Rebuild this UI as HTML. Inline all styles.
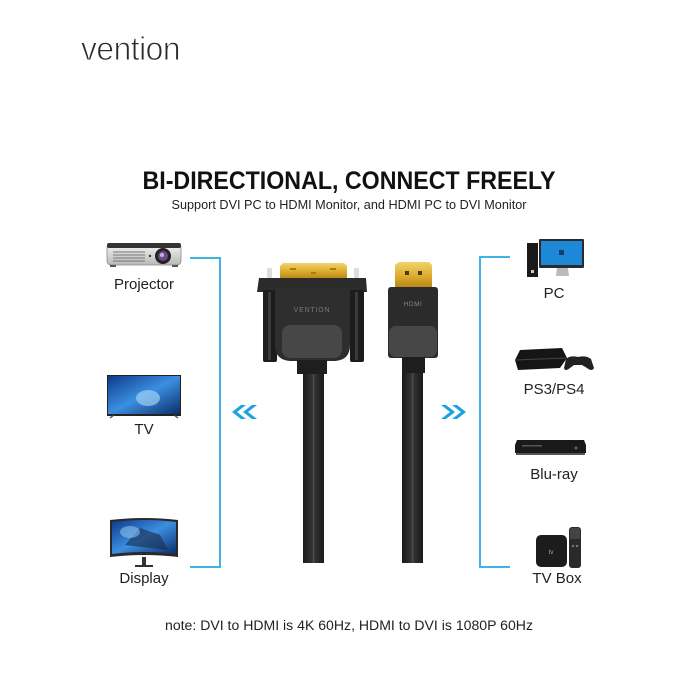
<!DOCTYPE html>
<html>
<head>
<meta charset="utf-8">
<style>
html,body{margin:0;padding:0;background:#fff;}
body{width:700px;height:700px;overflow:hidden;}
svg{display:block;}
text{font-family:"Liberation Sans",Arial,sans-serif;}
</style>
</head>
<body>
<svg width="700" height="700" viewBox="0 0 700 700" xmlns="http://www.w3.org/2000/svg">
<defs>
  <linearGradient id="gold" x1="0" y1="0" x2="0" y2="1">
    <stop offset="0" stop-color="#f3d36a"/>
    <stop offset="0.6" stop-color="#d9a92a"/>
    <stop offset="1" stop-color="#b88a18"/>
  </linearGradient>
  <linearGradient id="cable" x1="0" y1="0" x2="1" y2="0">
    <stop offset="0" stop-color="#1a1a1a"/>
    <stop offset="0.45" stop-color="#333"/>
    <stop offset="0.5" stop-color="#555"/>
    <stop offset="0.55" stop-color="#333"/>
    <stop offset="1" stop-color="#1a1a1a"/>
  </linearGradient>
  <linearGradient id="scr" x1="0" y1="0" x2="1" y2="1">
    <stop offset="0" stop-color="#0e3a8a"/>
    <stop offset="0.5" stop-color="#3b8fe0"/>
    <stop offset="1" stop-color="#0b2e6a"/>
  </linearGradient>
  <linearGradient id="silver" x1="0" y1="0" x2="0" y2="1">
    <stop offset="0" stop-color="#f4f4f4"/>
    <stop offset="1" stop-color="#b8b8b8"/>
  </linearGradient>
</defs>

<!-- logo -->
<text x="81" y="60" font-size="33" fill="#2a2a2a" stroke="#fff" stroke-width="0.9" paint-order="normal" textLength="99" lengthAdjust="spacingAndGlyphs" letter-spacing="-0.5">vention</text>

<!-- title -->
<text x="349" y="189" font-size="25" font-weight="bold" fill="#111" text-anchor="middle" textLength="413" lengthAdjust="spacingAndGlyphs">BI-DIRECTIONAL, CONNECT FREELY</text>
<text x="349" y="209" font-size="12.5" fill="#222" text-anchor="middle" textLength="355" lengthAdjust="spacingAndGlyphs">Support DVI PC to HDMI Monitor, and HDMI PC to DVI Monitor</text>

<!-- brackets -->
<path d="M190 258 H220 V567 H190" fill="none" stroke="#3fb3e2" stroke-width="2"/>
<path d="M510 257 H480 V567 H510" fill="none" stroke="#3fb3e2" stroke-width="2"/>

<!-- arrows -->
<g fill="#1aa3e0">
  <polygon points="232,412 241,405 246,405 237,412 246,419 241,419"/>
  <polygon points="243,412 252,405 257,405 248,412 257,419 252,419"/>
  <polygon points="466,412 457,405 452,405 461,412 452,419 457,419"/>
  <polygon points="455,412 446,405 441,405 450,412 441,419 446,419"/>
</g>

<!-- cables -->
<rect x="303" y="370" width="21" height="193" fill="url(#cable)"/>
<rect x="402" y="370" width="21" height="193" fill="url(#cable)"/>

<!-- DVI connector -->
<g>
  <path d="M283 263 H344 L347 266 V278 H280 V266 Z" fill="url(#gold)"/>
  <rect x="290" y="268" width="6" height="2" fill="#a67d12"/>
  <rect x="330" y="268" width="6" height="2" fill="#a67d12"/>
  <rect x="311" y="272" width="5" height="2" fill="#a67d12"/>
  <rect x="267" y="268" width="5" height="10" fill="#ddd"/>
  <rect x="354" y="268" width="5" height="10" fill="#ddd"/>
  <path d="M259 278 H366 L367 292 H257 Z" fill="#2b2b2b"/>
  <rect x="263" y="290" width="14" height="72" rx="2" fill="#1c1c1c"/>
  <rect x="350" y="290" width="14" height="72" rx="2" fill="#1c1c1c"/>
  <rect x="268" y="292" width="3" height="68" fill="#3a3a3a"/>
  <rect x="355" y="292" width="3" height="68" fill="#3a3a3a"/>
  <path d="M275 288 H350 V345 Q350 360 335 361 H290 Q275 360 275 345 Z" fill="#2e2e2e"/>
  <rect x="282" y="325" width="60" height="33" rx="8" fill="#474747"/>
  <text x="312" y="312" font-size="7" fill="#777" text-anchor="middle" letter-spacing="0.8">VENTION</text>
  <rect x="297" y="360" width="30" height="14" fill="#1e1e1e"/>
</g>

<!-- HDMI connector -->
<g>
  <path d="M399 262 H429 L432 265 V287 H395 V265 Z" fill="url(#gold)"/>
  <rect x="405" y="271" width="4" height="4" fill="#4a3a10"/>
  <rect x="418" y="271" width="4" height="4" fill="#4a3a10"/>
  <rect x="388" y="287" width="50" height="71" rx="3" fill="#2b2b2b"/>
  <rect x="389" y="326" width="48" height="31" rx="7" fill="#474747"/>
  <text x="413" y="306" font-size="6.5" fill="#888" text-anchor="middle" letter-spacing="0.5">HDMI</text>
  <rect x="402" y="357" width="23" height="16" fill="#1e1e1e"/>
</g>

<!-- Projector icon -->
<g>
  <rect x="107" y="244" width="74" height="21" rx="4" fill="url(#silver)" stroke="#888" stroke-width="0.8"/>
  <rect x="107" y="243" width="74" height="5" rx="2" fill="#333"/>
  <g stroke="#777" stroke-width="1">
    <line x1="113" y1="252" x2="145" y2="252"/>
    <line x1="113" y1="255" x2="145" y2="255"/>
    <line x1="113" y1="258" x2="145" y2="258"/>
    <line x1="113" y1="261" x2="145" y2="261"/>
  </g>
  <circle cx="150" cy="256" r="1.2" fill="#333"/>
  <circle cx="163" cy="256" r="8" fill="#222"/>
  <circle cx="163" cy="256" r="5" fill="#6a4a8a"/>
  <circle cx="162" cy="255" r="2" fill="#c8b0e8"/>
  <rect x="110" y="265" width="6" height="2" fill="#555"/>
  <rect x="172" y="265" width="6" height="2" fill="#555"/>
</g>
<text x="144" y="289" font-size="15" fill="#222" text-anchor="middle">Projector</text>

<!-- TV icon -->
<g>
  <rect x="107" y="375" width="74" height="41" fill="#222"/>
  <rect x="108" y="376" width="72" height="38" fill="url(#scr)"/>
  <ellipse cx="148" cy="398" rx="12" ry="8" fill="#9fd0f5" opacity="0.7"/>
  <path d="M110 418 L114 415 M178 418 L174 415" stroke="#444" stroke-width="1.2"/>
</g>
<text x="144" y="434" font-size="15" fill="#222" text-anchor="middle">TV</text>

<!-- Display icon -->
<g>
  <path d="M110 520 Q144 516 178 520 V557 Q144 553 110 557 Z" fill="#2a2a2a"/>
  <path d="M112 522 Q144 518 176 522 V554 Q144 550 112 554 Z" fill="url(#scr)"/>
  <path d="M125 545 L140 528 L160 535 L168 550 Z" fill="#1b2a4a" opacity="0.6"/>
  <ellipse cx="130" cy="532" rx="10" ry="6" fill="#9fd0f5" opacity="0.5"/>
  <rect x="142" y="557" width="4" height="9" fill="#333"/>
  <rect x="135" y="565" width="18" height="2" fill="#333"/>
</g>
<text x="144" y="583" font-size="15" fill="#222" text-anchor="middle">Display</text>

<!-- PC icon -->
<g>
  <rect x="527" y="243" width="11" height="34" fill="#1a1a1a"/>
  <rect x="531" y="270" width="3" height="3" fill="#ccc"/>
  <rect x="539" y="239" width="45" height="29" rx="1" fill="#2a2a2a"/>
  <rect x="541" y="241" width="41" height="24" fill="#1e88d8"/>
  <rect x="559" y="250" width="5" height="5" fill="#1a3a6a"/>
  <path d="M557 268 H568 L569 276 H556 Z" fill="#bbb"/>
</g>
<text x="554" y="298" font-size="15" fill="#222" text-anchor="middle">PC</text>

<!-- PS4 icon -->
<g>
  <path d="M520 350 L562 348 L567 358 L560 368 L518 370 L515 360 Z" fill="#151515"/>
  <path d="M516 360 L566 358" stroke="#444" stroke-width="1"/>
  <path d="M566 359 Q570 355 578 357 Q586 355 591 359 L594 368 Q592 372 587 368 L582 365 H574 L570 368 Q565 372 564 368 Z" fill="#222"/>
</g>
<text x="554" y="394" font-size="15" fill="#222" text-anchor="middle">PS3/PS4</text>

<!-- Blu-ray icon -->
<g>
  <path d="M517 440 H584 L586 445 V453 H515 V445 Z" fill="#1a1a1a"/>
  <rect x="516" y="453" width="69" height="2" fill="#555"/>
  <rect x="522" y="445" width="20" height="1.5" fill="#555"/>
  <circle cx="576" cy="448" r="1.5" fill="#666"/>
</g>
<text x="554" y="479" font-size="15" fill="#222" text-anchor="middle">Blu-ray</text>

<!-- TV Box icon -->
<g>
  <rect x="536" y="535" width="31" height="32" rx="5" fill="#1c1c1c"/>
  <text x="551" y="554" font-size="6" fill="#aaa" text-anchor="middle">tv</text>
  <rect x="569" y="527" width="12" height="41" rx="3" fill="#2a2a2a"/>
  <rect x="570" y="528" width="10" height="11" rx="2" fill="#444"/>
  <circle cx="573" cy="546" r="1.2" fill="#777"/>
  <circle cx="577" cy="546" r="1.2" fill="#777"/>
</g>
<text x="557" y="583" font-size="15" fill="#222" text-anchor="middle">TV Box</text>

<!-- note -->
<text x="349" y="630" font-size="13.5" fill="#222" text-anchor="middle" textLength="368" lengthAdjust="spacingAndGlyphs">note: DVI to HDMI is 4K 60Hz, HDMI to DVI is 1080P 60Hz</text>
</svg>
</body>
</html>
